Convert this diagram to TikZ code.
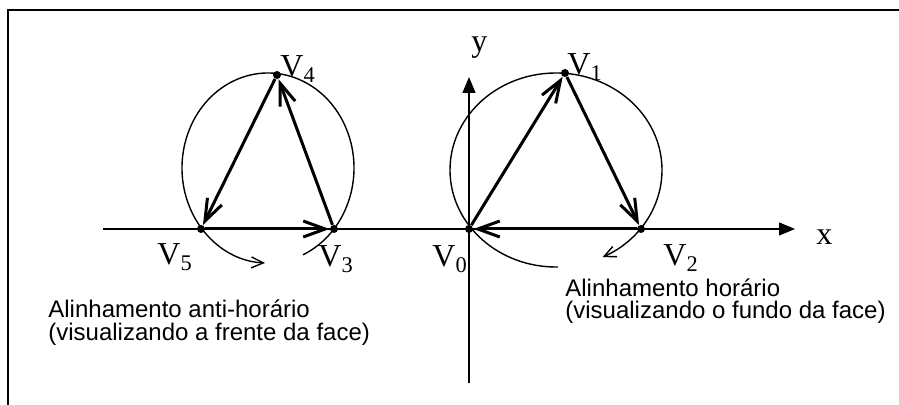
\documentclass[tikz,border=0pt]{standalone}
\usepackage{fontspec}
\setmainfont{Liberation Serif}
\newfontfamily\capfont{Liberation Sans}
\usetikzlibrary{arrows.meta}

\begin{document}
\begin{tikzpicture}[x=0.5pt, y=-0.5pt,
  vdot/.style={circle, fill, inner sep=0pt, minimum size=4pt},
  vlabel/.style={anchor=base west, inner sep=0pt, font=\fontsize{16}{16}\selectfont},
  caption/.style={anchor=base west, inner sep=0pt, font=\capfont\fontsize{12}{12}\selectfont},
  edge/.style={line width=1.5pt, -{Straight Barb[length=11pt, width=8pt]}},
  turn/.style={line width=0.7pt, -{Straight Barb[length=6pt, width=5.5pt]}},
  axis/.style={line width=0.7pt, -{Triangle[length=8pt, width=6.5pt]}}]

\useasboundingbox (0,0) rectangle (899,405);

% frame, only its top and left edges are in view
\draw[line width=0.9pt] (8,405) -- (8,10) -- (899,10);

% axes
\coordinate (xs) at (103,229);
\coordinate (xe) at (795,229);
\coordinate (ys) at (469,383);
\coordinate (ye) at (469,77);
\draw[axis] (xs) -- (xe);
\draw[axis] (ys) -- (ye);
\node[vlabel] (xl) at (816,245) {x};
\node[vlabel] (yl) at (471,52) {y};

% vertices of the left face
\node[vdot] (v3) at (334,229) {};
\node[vdot] (v4) at (277,75) {};
\node[vdot] (v5) at (201,229) {};
\node[vlabel] (l3) at (318,267) {V\textsubscript{3}};
\node[vlabel] (l4) at (280,77) {V\textsubscript{4}};
\node[vlabel] (l5) at (157,265) {V\textsubscript{5}};

% vertices of the right face
\node[vdot] (v0) at (469,229) {};
\node[vdot] (v1) at (565,73) {};
\node[vdot] (v2) at (641,229) {};
\node[vlabel] (l0) at (432,267) {V\textsubscript{0}};
\node[vlabel] (l1) at (567,75) {V\textsubscript{1}};
\node[vlabel] (l2) at (663,266) {V\textsubscript{2}};

% edges, left face goes anti-clockwise
\draw[edge] (v5) -- (v3);
\draw[edge] (v3) -- (v4);
\draw[edge] (v4) -- (v5);

% edges, right face goes clockwise
\draw[edge] (v0) -- (v1);
\draw[edge] (v1) -- (v2);
\draw[edge] (v2) -- (v0);

% turning sense round each face
\coordinate (cl) at (268,168);
\coordinate (cr) at (556,170);
\draw[turn] ([shift={(-66:43pt and 47.5pt)}]cl)
  arc[start angle=-66, end angle=268, x radius=43pt, y radius=47.5pt];
\draw[turn] ([shift={(271:53pt and 48.5pt)}]cr)
  arc[start angle=271, end angle=-64, x radius=53pt, y radius=48.5pt];

% captions
\node[caption] (capl1) at (48,318) {Alinhamento anti-horário};
\node[caption] (capl2) at (48,341) {(visualizando a frente da face)};
\node[caption] (capr1) at (565,297) {Alinhamento horário};
\node[caption] (capr2) at (565,319) {(visualizando o fundo da face)};

\end{tikzpicture}
\end{document}
